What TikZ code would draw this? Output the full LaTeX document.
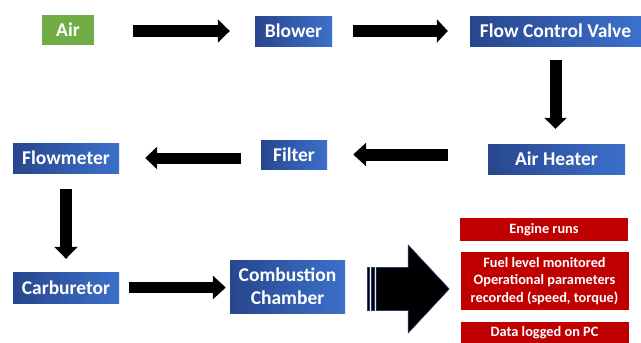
\documentclass[tikz,border=0pt]{standalone}
\usepackage{fontspec}
\setmainfont{Carlito}
\usetikzlibrary{arrows.meta}
\definecolor{bluedark}{RGB}{40,70,142}
\definecolor{bluelight}{RGB}{60,112,202}
\definecolor{airgreen}{RGB}{112,173,71}
\definecolor{boxred}{RGB}{192,0,0}
\definecolor{arrowedge}{RGB}{40,60,110}
\tikzset{
  bluebox/.style={left color=bluedark, right color=bluelight, text=white,
    font=\fontsize{19.5}{23}\selectfont\bfseries, inner sep=0pt, align=center},
  greenbox/.style={fill=airgreen, text=white,
    font=\fontsize{19.5}{23}\selectfont\bfseries, inner sep=0pt},
  redbox/.style={fill=boxred, text=white, minimum width=168pt,
    font=\fontsize{14.3}{17.5}\selectfont\bfseries, inner sep=0pt, align=center},
  blk/.style={line width=12pt, black, -{Triangle[length=12pt,width=23pt]}},
}
\begin{document}
\begin{tikzpicture}[x=1pt,y=-1pt]
\useasboundingbox (0,0) rectangle (641,343);
% row 1
\node[greenbox, minimum width=52pt, minimum height=30pt] (air) at (68,29.5) {Air};
\node[bluebox, minimum width=77pt, minimum height=30pt] (blower) at (293.5,31) {Blower};
\node[bluebox, minimum width=171pt, minimum height=30pt] (fcv) at (555.5,31) {Flow Control Valve};
% row 2
\node[bluebox, minimum width=137pt, minimum height=30pt] (heater) at (556.5,159) {Air Heater};
\node[bluebox, minimum width=66pt, minimum height=29pt] (filter) at (294,154.5) {Filter};
\node[bluebox, minimum width=106pt, minimum height=30pt] (flow) at (66,158) {Flowmeter};
% row 3
\node[bluebox, minimum width=106pt, minimum height=31pt] (carb) at (66,287.5) {Carburetor};
\node[bluebox, minimum width=115pt, minimum height=53pt] (comb) at (287.5,286.5) {Combustion\\Chamber};
% red boxes
\node[redbox, minimum height=23pt] (red1) at (544,229.5) {Engine runs};
\node[redbox, minimum height=58pt] (red2) at (544.5,281) {Fuel level monitored\\Operational parameters\\recorded (speed, torque)};
\node[redbox, minimum height=21pt] (red3) at (544.5,332.5) {Data logged on PC};
% connectors
\draw[blk] ([xshift=39pt]air.east |- blower.west) -- ([xshift=-25pt]blower.west);
\draw[blk, -{Triangle[length=11pt,width=23pt]}] ([xshift=21pt]blower.east) -- ([xshift=-22pt]fcv.west);
\draw[blk, -{Triangle[length=11pt,width=22pt]}] ([yshift=-14pt]fcv.south) -- ([yshift=15pt]fcv.south |- heater.north);
\draw[blk, -{Triangle[length=13pt,width=23pt]}] ([xshift=-40pt]heater.west |- filter.east) -- ([xshift=26pt]filter.east);
\draw[blk, line width=11pt, -{Triangle[length=12pt,width=22pt]}] ([xshift=-20pt]filter.west |- flow.east) -- ([xshift=26pt]flow.east);
\draw[blk] ([yshift=-16pt]flow.south) -- ([yshift=13pt]carb.north);
\draw[blk, line width=11pt, -{Triangle[length=13pt,width=23pt]}] ([xshift=10pt]carb.east) -- ([xshift=-4pt]carb.east -| comb.west);
% striped block arrow
\coordinate (ba) at ([xshift=22pt]comb.east |- 0,289);
\begin{scope}[fill=black, draw=arrowedge, line width=0.6pt]
\filldraw (ba) ++(9,-21.5) -- ++(32,0) -- ++(0,-22.5) -- ++(41,44) -- ++(-41,44) -- ++(0,-22.5) -- ++(-32,0) -- cycle;
\filldraw (ba) ++(0,-21.5) rectangle ++(2.5,43);
\filldraw (ba) ++(4,-21.5) rectangle ++(3,43);
\end{scope}
\end{tikzpicture}
\end{document}
